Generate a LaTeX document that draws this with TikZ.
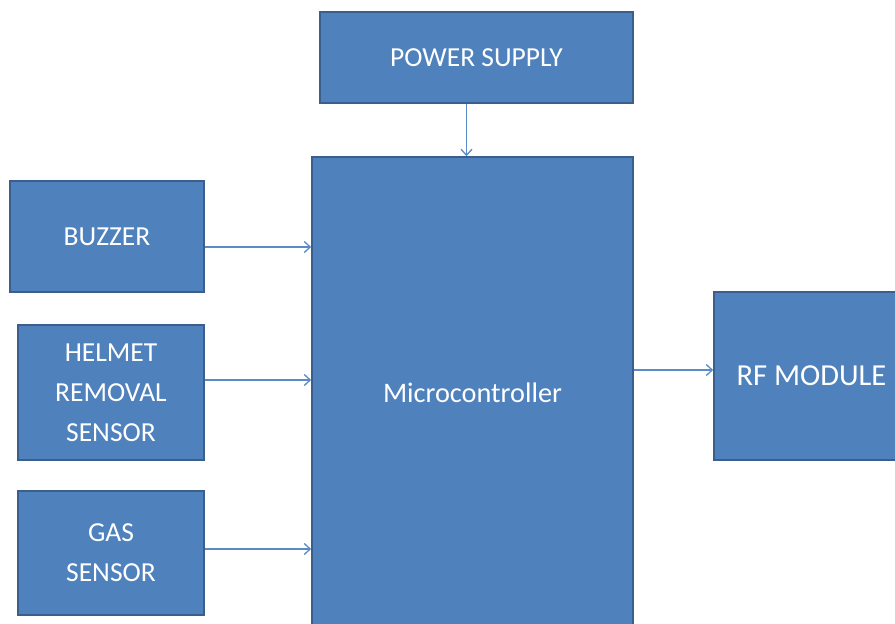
\documentclass[tikz,border=0pt]{standalone}
\usepackage{fontspec}
\setmainfont{Carlito}
\usetikzlibrary{arrows.meta,positioning}
\definecolor{blockfill}{HTML}{4F81BD}
\definecolor{blockline}{HTML}{3A5F8C}
\definecolor{wire}{HTML}{5B8BC6}

\begin{document}
\begin{tikzpicture}[x=1pt, y=-1pt,
  block/.style={draw=blockline, line width=1.6pt, fill=blockfill, text=white,
    align=center, inner sep=0pt,
    font=\fontsize{27.5}{40}\selectfont},
  wire/.style={draw=wire, line width=1.3pt, -{Straight Barb[length=6pt, width=11pt]}}]

\useasboundingbox (0,0) rectangle (895,624);
\clip (0,0) rectangle (895,624);

% =================== blocks ===================
\node[block, minimum width=313pt, minimum height=91pt] (psu) at (476.5, 57.5) {POWER SUPPLY};
\node[block, minimum width=321pt, minimum height=472pt, font=\fontsize{28.3}{40}\selectfont] (mcu) at (472.5, 393) {Microcontroller};

% inputs on the left
\node[block, minimum width=194pt, minimum height=111pt] (buzzer) at (107, 236.5) {BUZZER};
\node[block, minimum width=186pt, minimum height=135pt] (helmet) at (111, 392.5) {HELMET\\REMOVAL\\SENSOR};
\node[block, minimum width=186pt, minimum height=124pt] (gas) at (111, 553) {GAS\\SENSOR};

% output on the right
\node[block, minimum width=195pt, minimum height=168pt, font=\fontsize{30.5}{40}\selectfont] (rf) at (811.5, 376) {RF MODULE};

% =================== connectors ===================
\draw[wire] ([xshift=-10pt]psu.south) -- ([xshift=-10pt]psu.south |- mcu.north);
\draw[wire] ([yshift=-10.5pt]buzzer.east) -- ([yshift=-10.5pt]buzzer.east -| mcu.west);
\draw[wire] ([yshift=12.5pt]helmet.east) -- ([yshift=12.5pt]helmet.east -| mcu.west);
\draw[wire] ([yshift=4pt]gas.east) -- ([yshift=4pt]gas.east -| mcu.west);
\draw[wire] ([yshift=6pt]rf.west -| mcu.east) -- ([yshift=6pt]rf.west);

\end{tikzpicture}
\end{document}
